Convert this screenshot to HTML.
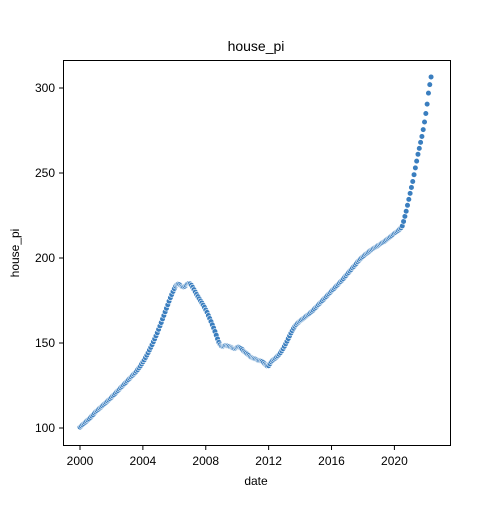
<!DOCTYPE html>
<html><head><meta charset="utf-8"><style>
body{margin:0;background:#fff}
svg{font-family:"Liberation Sans","DejaVu Sans",sans-serif}
</style></head><body>
<svg id="chart" width="500" height="500">
<rect x="0" y="0" width="500" height="500" fill="#fff"/>
<text x="256" y="51" text-anchor="middle" font-size="14">house_pi</text>
<g id="marks"></g>
<rect x="63.5" y="60.5" width="387" height="385" fill="none" stroke="#000" stroke-width="1"/>
<g id="xaxis"></g>
<g id="yaxis"></g>
<text x="256" y="485" text-anchor="middle" font-size="12">date</text>
<text x="19" y="253" text-anchor="middle" font-size="12" transform="rotate(-90 19 253)">house_pi</text>
</svg>
<script>
const startYear = 2000;
const housePi = [
100.5,101.2,101.9,102.6,103.3,104.0,104.7,105.4,106.2,107.0,107.8,108.7,
109.5,110.2,110.9,111.6,112.3,113.0,113.7,114.4,115.1,115.8,116.5,117.2,
118.0,118.8,119.6,120.4,121.2,122.0,122.8,123.6,124.4,125.2,126.0,126.8,
127.6,128.4,129.2,130.0,130.8,131.6,132.4,133.3,134.3,135.3,136.4,137.6,
138.8,140.0,141.4,142.8,144.3,145.8,147.4,149.0,150.7,152.4,154.2,156.0,
158.0,160.0,162.0,164.1,166.2,168.3,170.4,172.5,174.6,176.6,178.5,180.3,
182.0,183.4,184.3,184.6,184.4,183.8,183.2,183.0,183.3,184.0,184.7,185.0,
184.8,184.0,182.8,181.4,180.0,178.6,177.3,176.0,174.8,173.6,172.3,171.0,
169.5,168.0,166.2,164.4,162.6,160.7,158.8,156.8,154.6,152.4,150.4,149.0,
148.2,148.0,148.2,148.5,148.4,148.2,148.0,147.6,147.3,147.0,146.8,147.0,
147.4,147.6,147.3,146.8,146.1,145.2,144.5,144.0,143.4,142.7,142.0,141.5,
141.2,140.9,140.6,140.2,139.8,139.6,139.5,139.2,138.6,137.8,137.0,136.5,
136.6,137.8,138.9,139.7,140.4,141.0,141.7,142.4,143.3,144.3,145.4,146.6,
148.0,149.5,151.0,152.6,154.2,155.8,157.3,158.6,159.8,160.8,161.6,162.3,
163.0,163.6,164.2,164.8,165.4,166.0,166.6,167.2,167.9,168.6,169.3,170.1,
170.9,171.7,172.5,173.3,174.1,174.9,175.7,176.5,177.3,178.1,178.9,179.7,
180.5,181.3,182.1,182.9,183.7,184.5,185.3,186.1,186.9,187.8,188.7,189.6,
190.5,191.4,192.3,193.2,194.1,195.0,195.9,196.8,197.7,198.6,199.4,200.1,
200.8,201.5,202.2,202.8,203.4,204.0,204.6,205.1,205.6,206.1,206.6,207.1,
207.6,208.1,208.6,209.1,209.6,210.1,210.7,211.3,211.9,212.5,213.1,213.8,
214.5,215.0,215.6,216.2,216.9,217.7,218.8,221.5,224.5,227.5,231.0,234.5,
238.0,241.5,245.0,249.0,253.0,257.0,261.0,264.5,268.0,271.5,275.5,280.0,
285.0,290.5,297.0,302.0,306.5
];
const xTicks = [2000,2004,2008,2012,2016,2020];
const yTicks = [100,150,200,250,300];

const NS = "http://www.w3.org/2000/svg";
function xScale(yr){ return 80 + (yr - 2000) * 15.72; }
function yScale(v){ return 428 - (v - 100) * 1.7; }

const marks = document.getElementById('marks');
housePi.forEach((v,i)=>{
  const c = document.createElementNS(NS,'circle');
  c.setAttribute('cx', xScale(startYear + i/12));
  c.setAttribute('cy', yScale(v));
  c.setAttribute('r', 2.8);
  c.setAttribute('fill', '#3a7ebf');
  c.setAttribute('stroke', '#fff');
  c.setAttribute('stroke-width', '0.6');
  
  
  marks.appendChild(c);
});

const xa = document.getElementById('xaxis');
xTicks.forEach(t=>{
  const x = xScale(t);
  const l = document.createElementNS(NS,'line');
  l.setAttribute('x1', x); l.setAttribute('x2', x);
  l.setAttribute('y1', 446); l.setAttribute('y2', 450);
  l.setAttribute('stroke', '#000');
  
  
  xa.appendChild(l);
  const tx = document.createElementNS(NS,'text');
  tx.setAttribute('x', x); tx.setAttribute('y', 465);
  tx.setAttribute('text-anchor', 'middle');
  tx.setAttribute('font-size', '12');
  tx.textContent = t;
  
  
  xa.appendChild(tx);
});
const ya = document.getElementById('yaxis');
yTicks.forEach(t=>{
  const y = yScale(t);
  const l = document.createElementNS(NS,'line');
  l.setAttribute('x1', 59); l.setAttribute('x2', 63);
  l.setAttribute('y1', y); l.setAttribute('y2', y);
  l.setAttribute('stroke', '#000');
  
  
  ya.appendChild(l);
  const tx = document.createElementNS(NS,'text');
  tx.setAttribute('x', 55); tx.setAttribute('y', y + 4);
  tx.setAttribute('text-anchor', 'end');
  tx.setAttribute('font-size', '12');
  tx.textContent = t;
  
  
  ya.appendChild(tx);
});
</script>
</body></html>
